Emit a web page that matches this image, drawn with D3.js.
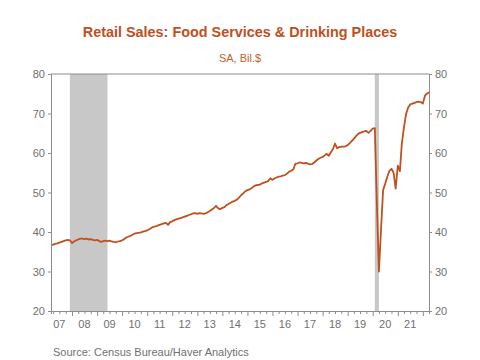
<!DOCTYPE html>
<html>
<head>
<meta charset="utf-8">
<script src="https://cdn.jsdelivr.net/npm/d3@7"></script>
<style>
	body { margin: 0; background: #fff; }
	svg { display: block; font-family: "Liberation Sans", Arial, sans-serif; }
</style>
</head>
<body>
<svg id="chart" width="480" height="360"></svg>
<script>

// monthly sales, SA, bil. $ -- first value is March 2007
const firstMonth = new Date(2007, 2, 1);
const sales2007 = [36.7, 36.8, 37.0, 37.1, 37.3, 37.5, 37.7, 37.9, 38.0, 37.9];
const sales2008 = [37.2, 37.6, 37.9, 38.1, 38.3, 38.3, 38.2, 38.3, 38.1, 38.2, 38.0, 37.9];
const sales2009 = [38.0, 37.7, 37.5, 37.7, 37.8, 37.7, 37.8, 37.6, 37.5, 37.4, 37.6, 37.7];
const sales2010 = [37.9, 38.2, 38.6, 38.8, 39.0, 39.3, 39.6, 39.7, 39.8, 39.9, 40.1, 40.2];
const sales2011 = [40.4, 40.7, 41.0, 41.3, 41.4, 41.6, 41.8, 42.0, 42.2, 42.3, 41.8, 42.5];
const sales2012 = [42.7, 43.0, 43.2, 43.4, 43.5, 43.7, 43.9, 44.1, 44.3, 44.5, 44.7, 44.8];
const sales2013 = [44.6, 44.8, 44.7, 44.6, 44.7, 45.0, 45.3, 45.7, 46.1, 46.6, 46.0, 45.8];
const sales2014 = [46.1, 46.3, 46.8, 47.1, 47.4, 47.7, 47.9, 48.2, 48.7, 49.3, 49.8, 50.3];
const sales2015 = [50.6, 50.8, 51.1, 51.5, 51.8, 51.9, 52.0, 52.3, 52.5, 52.7, 52.9, 53.6];
const sales2016 = [53.2, 53.6, 53.8, 54.0, 54.1, 54.3, 54.4, 54.8, 55.3, 55.5, 55.9, 57.3];
const sales2017 = [57.4, 57.6, 57.5, 57.4, 57.5, 57.3, 57.1, 57.2, 57.6, 58.1, 58.5, 58.8];
const sales2018 = [59.0, 59.4, 59.8, 59.3, 60.2, 61.0, 62.4, 61.2, 61.5, 61.6, 61.6, 61.7];
const sales2019 = [62.0, 62.5, 63.0, 63.6, 64.2, 64.8, 65.1, 65.3, 65.5, 65.6, 65.1, 65.6];
const sales2020 = [66.2, 66.3, 48.0, 30.0, 40.5, 50.6, 52.2, 54.0, 55.5, 56.0, 55.0, 51.0];
const sales2021 = [56.8, 55.4, 62.4, 66.5, 69.8, 71.5, 72.3, 72.5, 72.7, 72.9, 73.0, 72.9];
const sales2022 = [72.5, 74.5, 75.0, 75.4];

const recessions = [["2007-12-01", "2009-06-01"], ["2020-02-01", "2020-04-01"]];
const yTicks = [20, 30, 40, 50, 60, 70, 80];
const yearLabels = ["07", "08", "09", "10", "11", "12", "13", "14", "15", "16", "17", "18", "19", "20", "21"];

const titleText = "Retail Sales: Food Services & Drinking Places";
const subtitleText = "SA, Bil.$";
const sourceText = "Source:  Census Bureau/Haver Analytics";

//////////////////////////////////////////////////////////////////////

const allSales = [].concat(sales2007, sales2008, sales2009, sales2010, sales2011, sales2012,
	sales2013, sales2014, sales2015, sales2016, sales2017, sales2018, sales2019, sales2020,
	sales2021, sales2022);

const data = allSales.map(function(v, i) {
	return {date: d3.timeMonth.offset(firstMonth, i), value: v};
});

const plotLeft = 51, plotRight = 429, plotTop = 74, plotBottom = 311;
const lineColor = "#c0501e";
const axisColor = "#8c8c8c";
const textColor = "#707070";

const svg = d3.select("#chart");

const x = d3.scaleTime()
	.domain([firstMonth, data[data.length - 1].date])
	.range([plotLeft, plotRight]);

const y = d3.scaleLinear()
	.domain([20, 80])
	.range([plotBottom, plotTop]);

// recession bars
svg.append("g")
	.selectAll("rect")
	.data(recessions)
	.join("rect")
	.attr("x", function(d) { return x(new Date(d[0])); })
	.attr("y", plotTop)
	.attr("width", function(d) { return x(new Date(d[1])) - x(new Date(d[0])); })
	.attr("height", plotBottom - plotTop)
	.attr("fill", "#c8c8c8");

// line
const line = d3.line()
	.x(function(d) { return x(d.date); })
	.y(function(d) { return y(d.value); });

svg.append("path")
	.datum(data)
	.attr("d", line)
	.attr("fill", "none")
	.attr("stroke", lineColor)
	.attr("stroke-width", 1.8)
	.attr("stroke-linejoin", "round");

// left and right axes
const leftAxis = svg.append("g")
	.attr("transform", "translate(" + plotLeft + ",0)")
	.call(d3.axisLeft(y).tickValues(yTicks).tickSize(3).tickPadding(3));

const rightAxis = svg.append("g")
	.attr("transform", "translate(" + plotRight + ",0)")
	.call(d3.axisRight(y).tickValues(yTicks).tickSize(3).tickPadding(3));

// bottom axis: quarter ticks, longer year ticks
const quarters = d3.timeMonth.every(3).range(firstMonth, x.domain()[1]);
const bottomAxis = svg.append("g")
	.attr("transform", "translate(0," + plotBottom + ")")
	.call(d3.axisBottom(x).tickValues(quarters).tickSize(3).tickFormat(""));

bottomAxis.selectAll(".tick line")
	.attr("y2", function(d) { return d.getMonth() === 0 ? 5 : 3; });

for (const g of [leftAxis, rightAxis, bottomAxis]) {
	g.select(".domain").attr("stroke", axisColor);
	g.selectAll(".tick line").attr("stroke", axisColor);
	g.selectAll("text")
		.attr("fill", textColor)
		.style("font-size", "11px")
		.style("font-family", "Liberation Sans, Arial, sans-serif");
}

// top border
svg.append("line")
	.attr("x1", plotLeft).attr("x2", plotRight)
	.attr("y1", plotTop).attr("y2", plotTop)
	.attr("stroke", axisColor);

// year labels centred in each year
svg.append("g")
	.selectAll("text")
	.data(yearLabels)
	.join("text")
	.attr("x", function(d) { return x(new Date(2000 + (+d), 6, 1)); })
	.attr("y", 328)
	.attr("text-anchor", "middle")
	.attr("fill", textColor)
	.style("font-size", "11px")
	.text(function(d) { return d; });

// titles
svg.append("text")
	.attr("x", 240).attr("y", 37)
	.attr("text-anchor", "middle")
	.attr("fill", lineColor)
	.style("font-size", "14.4px")
	.style("font-weight", "bold")
	.text(titleText);

svg.append("text")
	.attr("x", 240).attr("y", 62)
	.attr("text-anchor", "middle")
	.attr("fill", "#c4602c")
	.style("font-size", "11px")
	.text(subtitleText);

svg.append("text")
	.attr("x", 53).attr("y", 356)
	.attr("fill", textColor)
	.style("font-size", "11px")
	.text(sourceText);

</script>
</body>
</html>
